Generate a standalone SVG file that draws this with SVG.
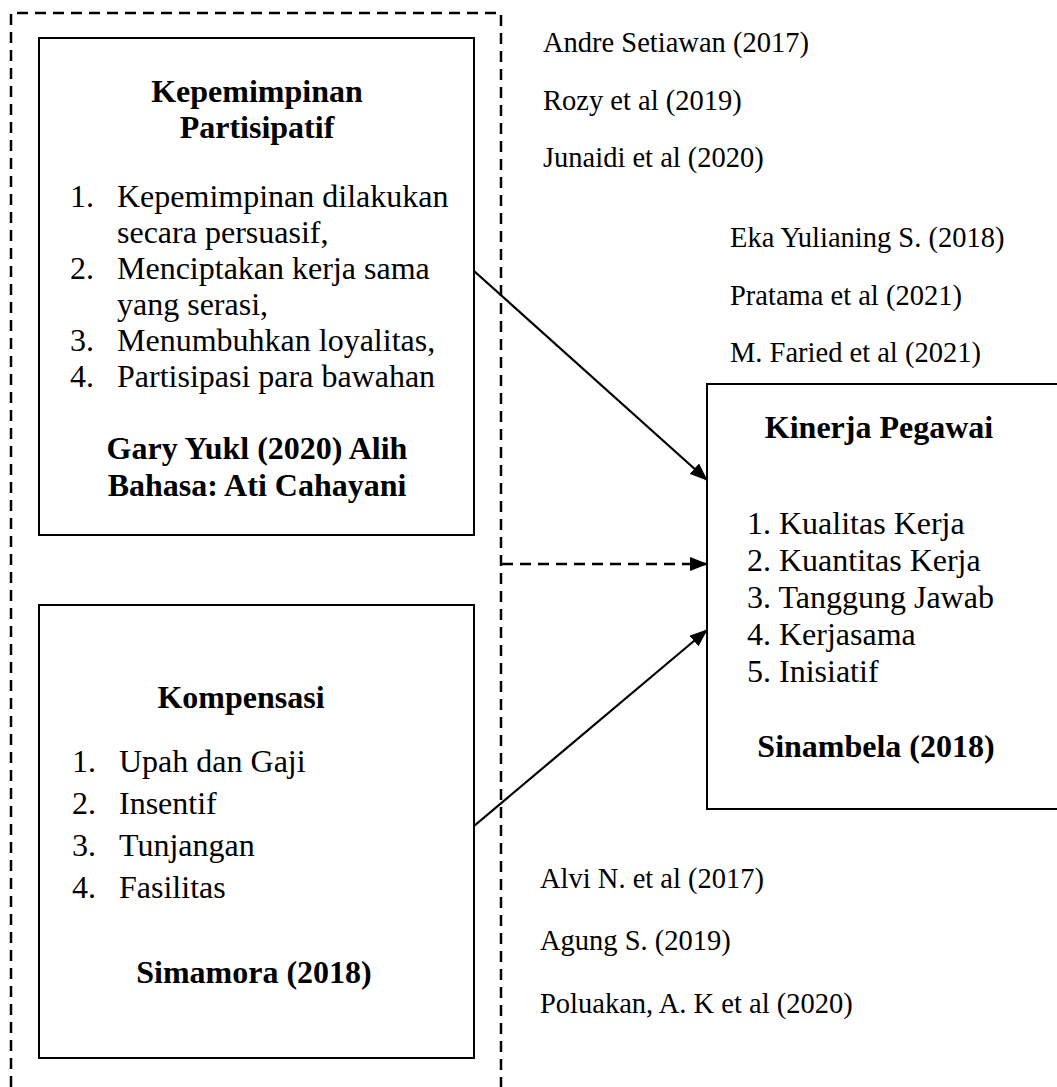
<svg xmlns="http://www.w3.org/2000/svg" width="1057" height="1087" viewBox="0 0 1057 1087">
<style>
text{font-family:"Liberation Serif","Times New Roman",serif;fill:#000}
.h{font-size:32px;font-weight:bold;text-anchor:middle}
.t{font-size:32px}
.r{font-size:28.5px}
.box{fill:#fff;stroke:#000;stroke-width:2}
.frame{fill:none;stroke:#000;stroke-width:2.5;stroke-dasharray:11 7}
.arr{fill:none;stroke:#000;stroke-width:2.2;marker-end:url(#ah)}
.darr{fill:none;stroke:#000;stroke-width:2.5;stroke-dasharray:11 7;marker-end:url(#ah)}
</style>
<defs>
<marker id="ah" markerUnits="userSpaceOnUse" markerWidth="18" markerHeight="14" refX="17" refY="7" orient="auto">
<path d="M0,0 L18,7 L0,14 Z" fill="#000"/>
</marker>
</defs>
<rect width="1057" height="1087" fill="#fff"/>
<path class="frame" d="M11,1087 V13 H501 V1087"/>
<g id="node-kepemimpinan">
<rect class="box" x="39" y="38" width="435" height="497"/>
<text class="h" x="257" y="102">Kepemimpinan</text>
<text class="h" x="257" y="138">Partisipatif</text>
<text class="t" x="70" y="207">1.</text><text class="t" x="117" y="207">Kepemimpinan dilakukan</text>
<text class="t" x="117" y="243">secara persuasif,</text>
<text class="t" x="70" y="279">2.</text><text class="t" x="117" y="279">Menciptakan kerja sama</text>
<text class="t" x="117" y="315">yang serasi,</text>
<text class="t" x="70" y="351">3.</text><text class="t" x="117" y="351">Menumbuhkan loyalitas,</text>
<text class="t" x="70" y="387">4.</text><text class="t" x="117" y="387">Partisipasi para bawahan</text>
<text class="h" x="257" y="459">Gary Yukl (2020) Alih</text>
<text class="h" x="257" y="496">Bahasa: Ati Cahayani</text>
</g>
<g id="node-kompensasi">
<rect class="box" x="39" y="605" width="435" height="453"/>
<text class="h" x="241" y="708">Kompensasi</text>
<text class="t" x="72" y="772">1.</text><text class="t" x="119" y="772">Upah dan Gaji</text>
<text class="t" x="72" y="814">2.</text><text class="t" x="119" y="814">Insentif</text>
<text class="t" x="72" y="856">3.</text><text class="t" x="119" y="856">Tunjangan</text>
<text class="t" x="72" y="898">4.</text><text class="t" x="119" y="898">Fasilitas</text>
<text class="h" x="254" y="983">Simamora (2018)</text>
</g>
<g id="node-kinerja">
<rect class="box" x="707" y="384" width="370" height="425"/>
<text class="h" x="879" y="438">Kinerja Pegawai</text>
<text class="t" x="747" y="534">1. Kualitas Kerja</text>
<text class="t" x="747" y="571">2. Kuantitas Kerja</text>
<text class="t" x="747" y="608">3. Tanggung Jawab</text>
<text class="t" x="747" y="645">4. Kerjasama</text>
<text class="t" x="747" y="682">5. Inisiatif</text>
<text class="h" x="876" y="757">Sinambela (2018)</text>
</g>
<g id="refs-1">
<text class="r" x="543" y="52">Andre Setiawan (2017)</text>
<text class="r" x="543" y="109.5">Rozy et al (2019)</text>
<text class="r" x="543" y="167">Junaidi et al (2020)</text>
</g>
<g id="refs-2">
<text class="r" x="730" y="247">Eka Yulianing S. (2018)</text>
<text class="r" x="730" y="305">Pratama et al (2021)</text>
<text class="r" x="730" y="362">M. Faried et al (2021)</text>
</g>
<g id="refs-3">
<text class="r" x="540" y="888">Alvi N. et al (2017)</text>
<text class="r" x="540" y="950">Agung S. (2019)</text>
<text class="r" x="540" y="1013">Poluakan, A. K et al (2020)</text>
</g>
<g id="connectors">
<line class="arr" x1="474" y1="271" x2="707" y2="480"/>
<line class="darr" x1="502" y1="564" x2="707" y2="564"/>
<line class="arr" x1="474" y1="826" x2="707" y2="630"/>
</g>
</svg>
